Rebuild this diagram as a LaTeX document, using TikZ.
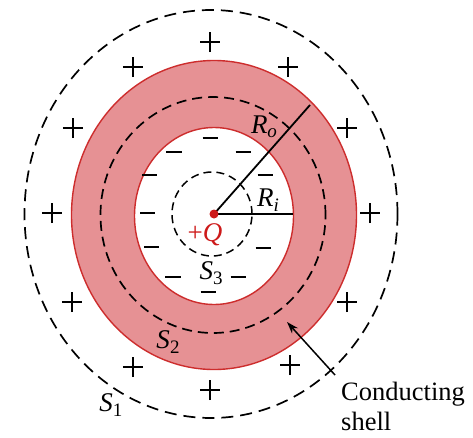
\documentclass[tikz,border=0pt]{standalone}
\usepackage{fontspec}
\setmainfont{Liberation Serif}
\usetikzlibrary{positioning, calc, arrows.meta}

\definecolor{shellfill}{RGB}{230,145,148}
\definecolor{shelledge}{RGB}{205,45,45}
\definecolor{chargered}{RGB}{205,25,25}

\newcommand{\italsub}[2]{\textit{#1}\raisebox{-0.35ex}{\fontsize{19}{20}\selectfont\textit{#2}}}
\newcommand{\uprsub}[2]{\textit{#1}\raisebox{-0.35ex}{\fontsize{19}{20}\selectfont #2}}

\begin{document}
\begin{tikzpicture}[
  x=1pt, y=1pt,
  font=\fontsize{27}{30}\selectfont,
  gaussone/.style={draw, line width=1.7pt, dash pattern=on 12pt off 7pt},
  gausstwo/.style={draw, line width=1.7pt, dash pattern=on 10pt off 6pt},
  gaussthree/.style={draw, line width=1.5pt, dash pattern=on 8pt off 5pt},
  charge/.style={line width=1.8pt},
  radius line/.style={line width=1.8pt},
  tag/.style={inner sep=1pt},
  qdot/.style={circle, fill=chargered, minimum size=9pt, inner sep=0pt},
]
\useasboundingbox (-214,-223) rectangle (259,214);

% --- Conducting shell ---
\fill[shellfill, even odd rule]
  (0,-1) ellipse[x radius=142.5pt, y radius=154.5pt]
  (0,-2) ellipse[x radius=79.5pt, y radius=88.5pt];
\draw[shelledge, line width=1.4pt] (0,-1) ellipse[x radius=142.5pt, y radius=154.5pt];
\draw[shelledge, line width=1.4pt] (0,-2) ellipse[x radius=79.5pt, y radius=88.5pt];

% --- Gaussian surfaces ---
\draw[gaussone] (-3,0) ellipse[x radius=186.5pt, y radius=204pt];
\draw[gausstwo] (-1,-1) ellipse[x radius=112.5pt, y radius=118pt];
\draw[gaussthree] (-2,0) ellipse[x radius=40pt, y radius=42pt];

% --- Induced charges ---
\foreach \px/\py in {-4/172, -81/147, 74/147, -141/86, 133/86, -162/1, 156/1,
                     -142/-88, 133/-88, -81/-153, 76/-151, -4/-176}
  \draw[charge] (\px-10,\py) -- (\px+10,\py) (\px,\py-10) -- (\px,\py+10);
\foreach \mx/\my in {-4/76, -40/62, 29/62, -64/39, 51/39, -66/1,
                     -62/-33, 49/-34, -41/-63, 24/-63, -6/-78}
  \draw[charge] (\mx-7.5,\my) -- (\mx+7.5,\my);

% --- Radii ---
\coordinate (Center) at (0,0);
\coordinate (RoEnd) at (96,109);
\coordinate (RiEnd) at (79,0);
\draw[radius line] (Center) -- (RoEnd);
\draw[radius line] (Center) -- (RiEnd);
\node[qdot] (Q) at (Center) {};

% --- Labels ---
\node[tag] (RoLabel) at (50,87) {\italsub{R}{o}};
\node[tag] (RiLabel) at (54,14) {\italsub{R}{i}};
\node[tag, text=chargered] (QLabel) at (-9,-21) {+\textit{Q}};
\node[tag] (S3Label) at (-3,-59) {\uprsub{S}{3}};
\node[tag] (S2Label) at (-46,-128) {\uprsub{S}{2}};
\node[tag] (S1Label) at (-103,-191) {\uprsub{S}{1}};

\node[tag, anchor=base west, font=\fontsize{26.5}{30}\selectfont] (CondLabel) at (126,-186) {Conducting};
\node[tag, anchor=base west, font=\fontsize{26.5}{30}\selectfont] (ShellLabel) at ($(CondLabel.base west)+(0,-30)$) {shell};
\coordinate (ArrowTail) at (121,-161);
\coordinate (ArrowHead) at (73,-108);
\draw[line width=1.5pt, -{Stealth[length=12pt, width=8pt]}] (ArrowTail) -- (ArrowHead);

\end{tikzpicture}
\end{document}
